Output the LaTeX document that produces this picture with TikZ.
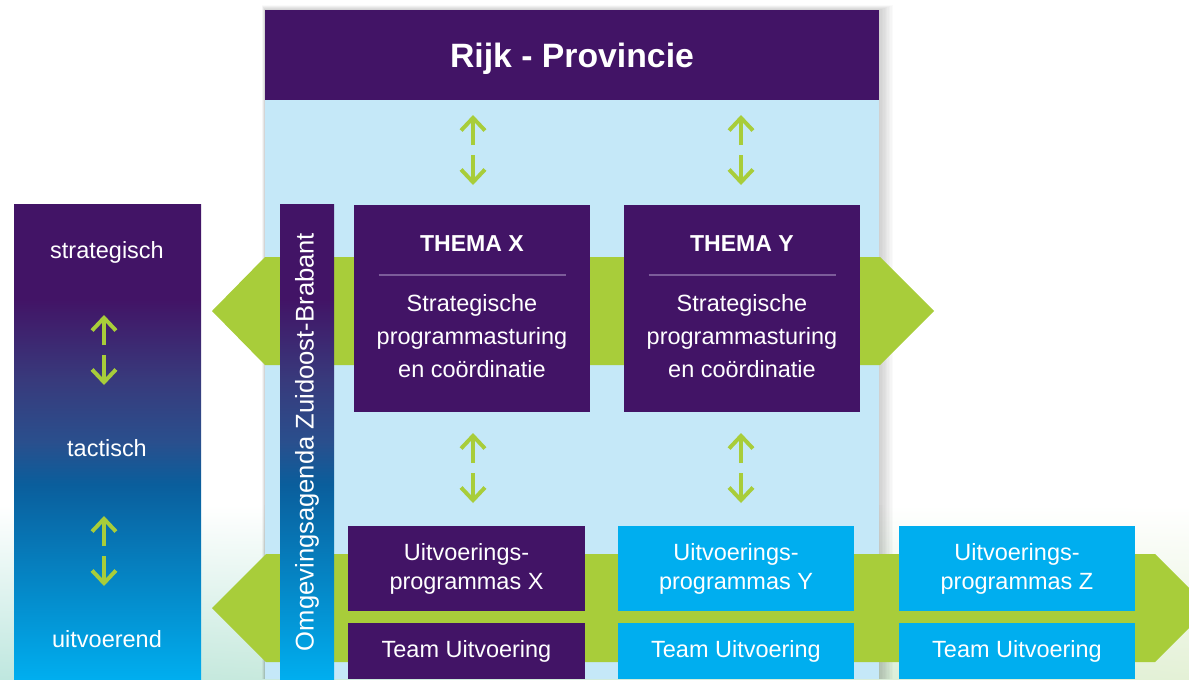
\documentclass[tikz,border=0pt]{standalone}
\usepackage{fontspec}
\setmainfont{Liberation Sans}
\usetikzlibrary{arrows.meta,calc,shadings}

\definecolor{rpurple}{HTML}{421466}
\definecolor{rlight}{HTML}{C5E8F8}
\definecolor{rgreen}{HTML}{A8CD3A}
\definecolor{rcyan}{HTML}{00AEEF}
\definecolor{rline}{HTML}{7C5C9A}
\definecolor{rmid}{HTML}{383A7C}
\definecolor{rmidb}{HTML}{2A4F8D}
\definecolor{rdeep}{HTML}{0A5E9C}
\definecolor{rmint}{HTML}{BFE7DF}
\definecolor{rpale}{HTML}{E4F1D6}

\pgfdeclareverticalshading{levelshade}{100bp}{color(0bp)=(rcyan); color(25bp)=(rcyan); color(45.5bp)=(rdeep); color(50bp)=(rmidb); color(56.5bp)=(rmid); color(65bp)=(rpurple); color(100bp)=(rpurple)}

\tikzset{
  wtxt/.style={inner sep=0pt, text=white, align=center, font=\fontsize{16.7pt}{23.5pt}\selectfont},
  hdrbox/.style={fill=rpurple, text=white, inner sep=0pt, minimum width=15.35cm, minimum height=2.25cm, text height=17.3pt, text depth=0pt, font=\fontsize{24pt}{28pt}\selectfont\bfseries},
  thbox/.style={fill=rpurple, inner sep=0pt, minimum width=5.9cm, minimum height=5.175cm},
  thtitle/.style={wtxt, font=\fontsize{16.4pt}{20pt}\selectfont\bfseries},
  sepline/.style={rline, line width=1.3pt},
  upbox/.style={wtxt, minimum width=5.9cm, minimum height=2.125cm, font=\fontsize{16.7pt}{20.6pt}\selectfont},
  teambox/.style={wtxt, minimum width=5.9cm, minimum height=1.4cm},
  omgtxt/.style={wtxt, rotate=90, font=\fontsize{18.2pt}{22pt}\selectfont},
  grarrow/.style={rgreen, line width=2.8pt, -{Straight Barb[length=9pt,width=17pt]}}
}

\begin{document}
\begin{tikzpicture}[x=0.025cm,y=-0.025cm]
      \useasboundingbox (0,0) rectangle (1189,679);
      \clip (0,0) rectangle (1189,679);
      \shade [upper left=white, upper right=white, lower left=rmint, lower right=rpale] (0,505) rectangle (1189,679);
      % panel with soft shadow
      \foreach \s in {1,...,10}
        \fill [black, opacity=0.02] (265-0.3*\s,10-0.5*\s) rectangle (879+1.4*\s,679);
      \fill [rlight] (265,10) rectangle (879,679);
      % green bands
      \fill [rgreen] (212,311) -- (265,257) -- (880,257) -- (934,311) -- (880,365) -- (265,365) -- cycle;
      \fill [rgreen] (212,608) -- (266,554) -- (1155,554) -- (1209,608) -- (1155,662) -- (266,662) -- cycle;
      % levels
      \shade [shading=levelshade] (14,204) rectangle (201,679);
      \node [wtxt] (strat) at (107,252) {strategisch};
      \node [wtxt] (tact) at (107,448.5) {tactisch};
      \node [wtxt] (uitv) at (107,639.5) {uitvoerend};
      \shade [shading=levelshade] (280,204) rectangle (334,679);
      \node [omgtxt] (omg) at (307,442) {Omgevingsagenda Zuidoost-Brabant};
      \node [hdrbox] (hdr) at (572,55) {Rijk - Provincie};
      % themes
      \node [thbox] (thx) at (472,308.5) {};
      \node [thtitle] (thxt) at ($(thx.north)+(0,38.5)$) {THEMA X};
      \draw [sepline] ($(thx.north west)+(25,70)$) -- ($(thx.north east)+(-24,70)$);
      \node [wtxt] (thxb) at ($(thx.north)+(0,131)$) {Strategische\\programmasturing\\en coördinatie};
      \node [thbox] (thy) at (742,308.5) {};
      \node [thtitle] (thyt) at ($(thy.north)+(0,38.5)$) {THEMA Y};
      \draw [sepline] ($(thy.north west)+(25,70)$) -- ($(thy.north east)+(-24,70)$);
      \node [wtxt] (thyb) at ($(thy.north)+(0,131)$) {Strategische\\programmasturing\\en coördinatie};
      % arrows
      \foreach \ax/\ay in {104/350, 104/551, 473/150, 741/150, 473/468, 741/468} {
        \draw [grarrow] (\ax,\ay-5) -- (\ax,\ay-35);
        \draw [grarrow] (\ax,\ay+5) -- (\ax,\ay+35);
      }
      % execution
      \node [upbox, fill=rpurple] (upx) at (466.5,568.5) {Uitvoerings-\\programmas X};
      \node [upbox, fill=rcyan] (upy) at (736,568.5) {Uitvoerings-\\programmas Y};
      \node [upbox, fill=rcyan] (upz) at (1017,568.5) {Uitvoerings-\\programmas Z};
      \node [teambox, fill=rpurple] (tmx) at (466.5,651) {Team Uitvoering};
      \node [teambox, fill=rcyan] (tmy) at (736,651) {Team Uitvoering};
      \node [teambox, fill=rcyan] (tmz) at (1017,651) {Team Uitvoering};
\end{tikzpicture}
\end{document}
